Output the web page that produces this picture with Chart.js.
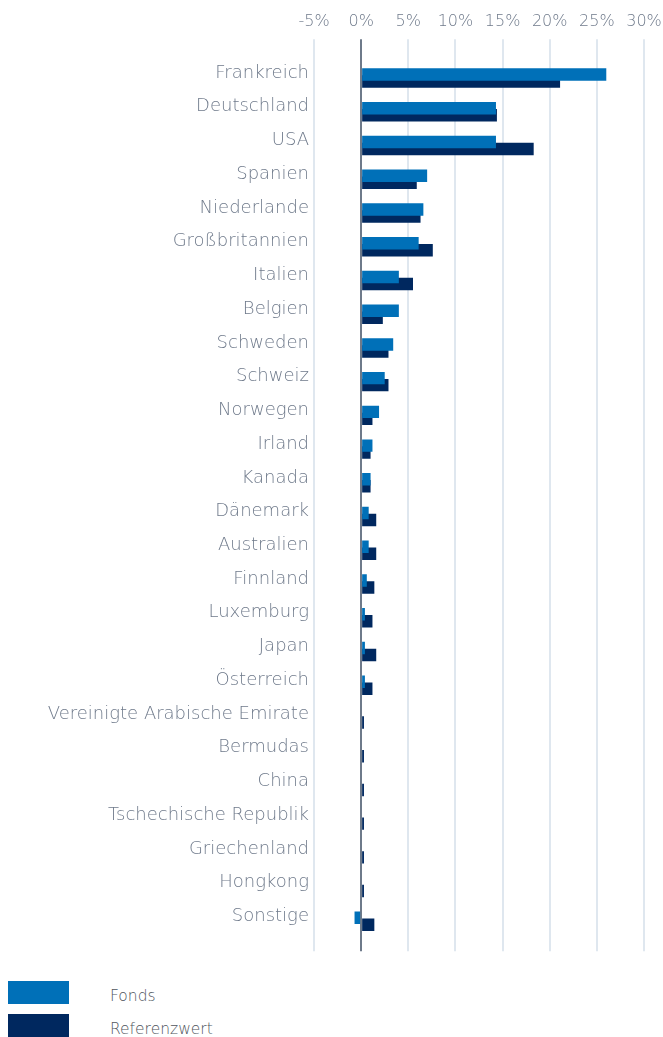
<!DOCTYPE html>
<html lang="de">
<head>
<meta charset="utf-8">
<title>Länderallokation</title>
<script src="https://cdn.jsdelivr.net/npm/chart.js"></script>
<style>
  html, body { margin: 0; padding: 0; background: #fff; }
  body { width: 663px; height: 1037px; position: relative; overflow: hidden; font-family: "DejaVu Sans", sans-serif; }
  .chart-wrap { position: absolute; left: 0; top: 0; width: 663px; height: 954px; }
  .legend { position: absolute; left: 8px; top: 981px; }
  .legend-item { position: relative; height: 33px; }
  .legend-item .swatch { position: absolute; left: 0; top: 0; width: 61px; height: 23px; }
  .legend-item .label { position: absolute; left: 102px; top: 6px; font-size: 15.5px; font-weight: 200; color: #4f555d; white-space: nowrap; }
</style>
</head>
<body>
<div class="chart-wrap"><canvas id="laenderChart"></canvas></div>
<div class="legend" id="legend"></div>

<script>
var countries = ['Frankreich', 'Deutschland', 'USA', 'Spanien', 'Niederlande', 'Großbritannien',
  'Italien', 'Belgien', 'Schweden', 'Schweiz', 'Norwegen', 'Irland', 'Kanada', 'Dänemark',
  'Australien', 'Finnland', 'Luxemburg', 'Japan', 'Österreich', 'Vereinigte Arabische Emirate',
  'Bermudas', 'China', 'Tschechische Republik', 'Griechenland', 'Hongkong', 'Sonstige'];
var fonds = [26.0, 14.3, 14.3, 7.0, 6.6, 6.1, 4.0, 4.0, 3.4, 2.5, 1.9, 1.2, 1.0, 0.8,
  0.8, 0.6, 0.4, 0.4, 0.4, 0, 0, 0, 0, 0, 0, -0.7];
var referenzwert = [21.1, 14.4, 18.3, 5.9, 6.3, 7.6, 5.5, 2.3, 2.9, 2.9, 1.2, 1.0, 1.0, 1.6,
  1.6, 1.4, 1.2, 1.6, 1.2, 0.3, 0.3, 0.3, 0.3, 0.3, 0.3, 1.4];
var seriesNames = ['Fonds', 'Referenzwert'];
var xMin = -5, xMax = 30, xStep = 5;

var colorFonds = '#0070b8',
    colorRef = '#00285f',
    gridColor = '#dfe7ef',
    zeroColor = '#6e7a8a',
    labelColor = '#6f7a8b';

function gridLineColor(ctx) {
  return ctx.tick && ctx.tick.value === 0 ? zeroColor : gridColor;
}

var ctx = document.getElementById('laenderChart').getContext('2d');
var chart = new Chart(ctx, {
  type: 'bar',
  data: {
    labels: countries,
    datasets: [{
      label: seriesNames[0],
      data: fonds,
      backgroundColor: colorFonds
    }, {
      label: seriesNames[1],
      data: referenzwert,
      backgroundColor: colorRef
    }]
  },
  options: {
    indexAxis: 'y',
    responsive: true,
    maintainAspectRatio: false,
    animation: false,
    // bars overlap a little, Fonds on top
    categoryPercentage: 0.415,
    barPercentage: 1.78,
    layout: { padding: { top: 4, right: 19, bottom: 2, left: 0 } },
    plugins: {
      legend: { display: false },
      tooltip: { enabled: false }
    },
    scales: {
      x: {
        position: 'top',
        min: xMin,
        max: xMax,
        border: { display: false },
        grid: { color: gridLineColor, lineWidth: 2, tickLength: 22 },
        afterFit: function(scale) { scale.paddingLeft = 0; scale.paddingRight = 0; },
        ticks: {
          stepSize: xStep,
          padding: 8,
          color: labelColor,
          font: { family: 'DejaVu Sans', size: 16, weight: 200 },
          callback: function(v) { return v + '%'; }
        }
      },
      x2: {
        position: 'bottom',
        axis: 'x',
        min: xMin,
        max: xMax,
        border: { display: false },
        grid: { color: gridLineColor, lineWidth: 2, tickLength: 13, drawOnChartArea: false },
        ticks: { stepSize: xStep, display: false }
      },
      y: {
        border: { display: false },
        grid: { display: false, drawTicks: false },
        afterFit: function(scale) { scale.width = 314; },
        ticks: {
          padding: 5,
          labelOffset: -5,
          color: labelColor,
          font: { family: 'DejaVu Sans', size: 18, weight: 200 }
        }
      }
    }
  }
});

// legend below the chart
var legendBox = document.getElementById('legend');
[colorFonds, colorRef].forEach(function(c, i) {
  var item = document.createElement('div');
  item.className = 'legend-item';
  item.innerHTML = '<span class="swatch" style="background:' + c + '"></span><span class="label">' + seriesNames[i] + '</span>';
  legendBox.appendChild(item);
});
</script>
</body>
</html>
